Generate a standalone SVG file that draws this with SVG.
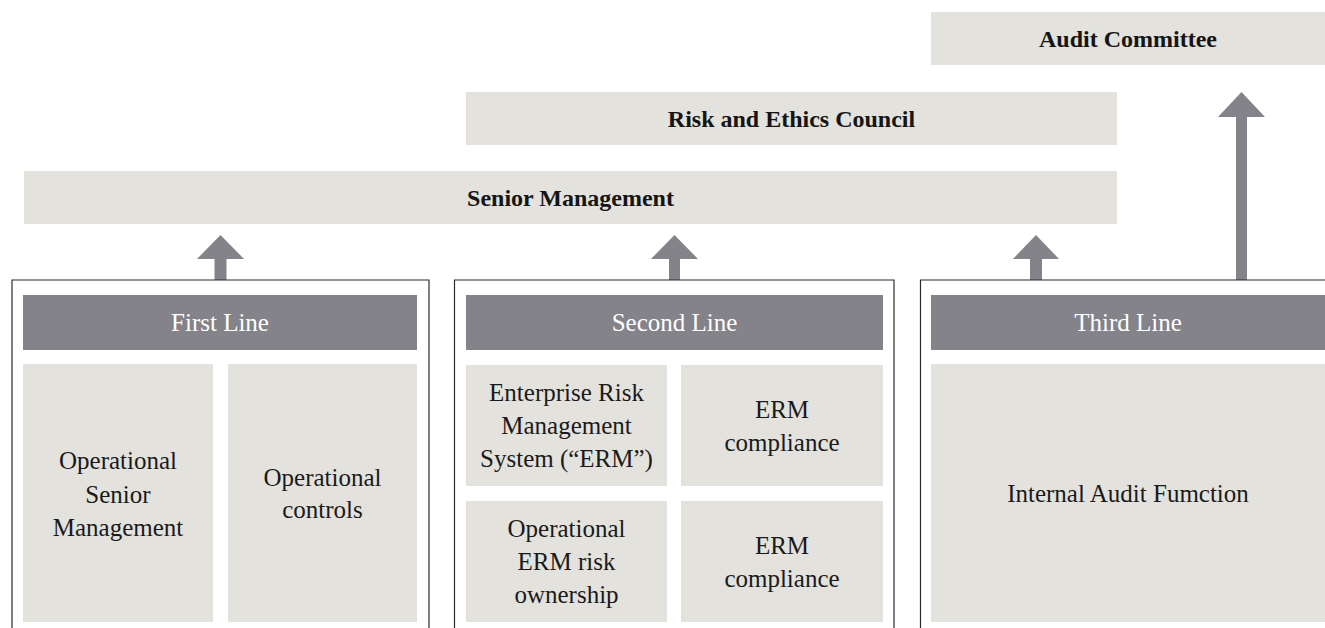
<svg xmlns="http://www.w3.org/2000/svg" width="1325" height="628" viewBox="0 0 1325 628">
  <style>
    .board { fill: #e3e2dd; }
    .cell { fill: #e3e2dd; }
    .head { fill: #838389; }
    .frame { fill: none; stroke: #2b2b2b; stroke-width: 1.2; }
    .arrow { fill: #838389; }
    text { font-family: "Liberation Serif", "Times New Roman", serif; text-anchor: middle; }
    .title { font-size: 24px; font-weight: bold; fill: #151515; }
    .htxt { font-size: 25px; fill: #ffffff; }
    .ctxt { font-size: 25px; fill: #1a1a1a; }
  </style>

  <rect width="1325" height="628" fill="#ffffff"/>

  <!-- governance bodies -->
  <g id="audit-committee">
    <rect class="board" x="931" y="12" width="394" height="53"/>
    <text class="title" x="1128" y="47">Audit Committee</text>
  </g>
  <g id="risk-ethics-council">
    <rect class="board" x="466" y="92" width="651" height="53"/>
    <text class="title" x="791.5" y="127">Risk and Ethics Council</text>
  </g>
  <g id="senior-management">
    <rect class="board" x="24" y="171" width="1093" height="53"/>
    <text class="title" x="570.5" y="206">Senior Management</text>
  </g>

  <!-- reporting arrows -->
  <g id="connectors">
    <path class="arrow" d="M214.5 280 V259 H197 L220.5 235 L244 259 H226.5 V280 Z"/>
    <path class="arrow" d="M669 280 V259 H651 L674.5 235 L698 259 H680 V280 Z"/>
    <path class="arrow" d="M1030 280 V259 H1013 L1036 235 L1059 259 H1042 V280 Z"/>
    <path class="arrow" d="M1236 280 V117 H1218 L1241.5 92 L1265 117 H1247 V280 Z"/>
  </g>

  <!-- first line of defence -->
  <g id="first-line">
    <path class="frame" d="M12 628 V280 H429 V628"/>
    <rect class="head" x="23" y="295" width="394" height="55"/>
    <text class="htxt" x="220" y="331">First Line</text>
    <rect class="cell" x="23" y="364" width="190" height="258"/>
    <text class="ctxt" x="118" y="469">Operational</text>
    <text class="ctxt" x="118" y="503">Senior</text>
    <text class="ctxt" x="118" y="536">Management</text>
    <rect class="cell" x="228" y="364" width="189" height="258"/>
    <text class="ctxt" x="322.5" y="486">Operational</text>
    <text class="ctxt" x="322.5" y="518">controls</text>
  </g>

  <!-- second line of defence -->
  <g id="second-line">
    <path class="frame" d="M454.5 628 V280 H894 V628"/>
    <rect class="head" x="466" y="295" width="417" height="55"/>
    <text class="htxt" x="674.5" y="331">Second Line</text>
    <rect class="cell" x="466" y="365" width="201" height="121"/>
    <text class="ctxt" x="566.5" y="401">Enterprise Risk</text>
    <text class="ctxt" x="566.5" y="434">Management</text>
    <text class="ctxt" x="566.5" y="467">System (“ERM”)</text>
    <rect class="cell" x="681" y="365" width="202" height="121"/>
    <text class="ctxt" x="782" y="418">ERM</text>
    <text class="ctxt" x="782" y="451">compliance</text>
    <rect class="cell" x="466" y="501" width="201" height="121"/>
    <text class="ctxt" x="566.5" y="537">Operational</text>
    <text class="ctxt" x="566.5" y="570">ERM risk</text>
    <text class="ctxt" x="566.5" y="603">ownership</text>
    <rect class="cell" x="681" y="501" width="202" height="121"/>
    <text class="ctxt" x="782" y="554">ERM</text>
    <text class="ctxt" x="782" y="587">compliance</text>
  </g>

  <!-- third line of defence -->
  <g id="third-line">
    <path class="frame" d="M920.5 628 V280 H1326"/>
    <rect class="head" x="931" y="295" width="394" height="55"/>
    <text class="htxt" x="1128" y="331">Third Line</text>
    <rect class="cell" x="931" y="364" width="394" height="258"/>
    <text class="ctxt" x="1128" y="502">Internal Audit Fumction</text>
  </g>
</svg>
